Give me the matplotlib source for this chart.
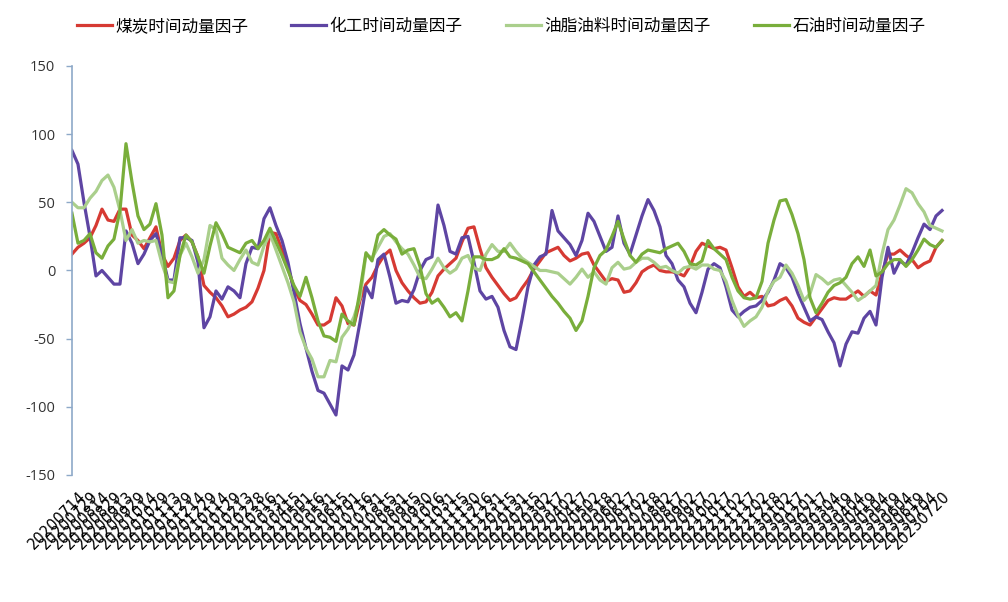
import matplotlib
matplotlib.use("Agg")
import matplotlib.pyplot as plt
import pandas as pd

plt.rcParams['font.family'] = ['Noto Sans CJK SC', 'DejaVu Sans']

series_names = ["煤炭时间动量因子", "化工时间动量因子", "油脂油料时间动量因子", "石油时间动量因子"]

dates = [d.strftime("%Y%m%d") for d in pd.date_range("2020-07-07", "2023-07-20", periods=146)]

coal = [12, 17, 20, 24, 33, 45, 37, 36, 45, 45, 26, 22, 16, 24, 32, 12, 3, 9, 22, 26,
        21, 10, -11, -16, -20, -26, -34, -32, -29, -27, -23, -13, 0, 28, 27, 15, 2, -13, -22, -25,
        -32, -40, -40, -37, -20, -26, -39, -40, -22, -10, -5, 4, 11, 15, 0, -9, -15, -20, -24, -23,
        -16, -4, 1, 5, 9, 21, 31, 32, 16, 2, -5, -11, -17, -22, -20, -13, -7, 1, 7, 13,
        15, 17, 11, 7, 9, 12, 13, 4, -2, -8, -6, -7, -16, -15, -9, -1, 2, 4, 0, -1,
        -1, -2, -4, 3, 14, 20, 18, 16, 17, 15, 2, -12, -19, -16, -20, -19, -26, -25, -22, -20,
        -26, -35, -38, -40, -34, -28, -22, -20, -21, -21, -18, -15, -19, -15, -18, -2, 12, 12, 15, 11,
        8, 2, 5, 7, 17, 22]

chem = [88, 78, 50, 25, -4, 0, -5, -10, -10, 29, 20, 5, 12, 22, 27, 12, -7, -7, 24, 24,
        22, 6, -42, -34, -15, -21, -12, -15, -20, 5, 17, 16, 38, 46, 33, 22, 6, -16, -39, -57,
        -74, -88, -90, -98, -106, -70, -73, -62, -38, -12, -20, 8, 12, -5, -24, -22, -23, -14, 0, 8,
        10, 48, 33, 14, 12, 24, 25, 6, -15, -21, -19, -27, -44, -56, -58, -36, -12, 4, 10, 12,
        44, 29, 24, 19, 11, 22, 42, 36, 25, 14, 17, 40, 20, 12, 26, 40, 52, 44, 32, 11,
        5, -7, -12, -24, -31, -16, 1, 5, 2, -12, -29, -34, -30, -27, -26, -22, -16, -7, 5, 2,
        -5, -17, -27, -37, -34, -36, -45, -53, -70, -54, -45, -46, -35, -30, -40, -5, 17, -2, 7, 4,
        13, 24, 34, 30, 40, 44]

oilseed = [50, 46, 46, 53, 58, 66, 70, 61, 44, 22, 30, 20, 22, 21, 22, 5, -8, -9, 11, 20,
           10, -2, 8, 33, 30, 9, 4, 0, 8, 15, 6, 4, 18, 27, 15, 3, -9, -23, -45, -57,
           -65, -78, -78, -66, -67, -49, -43, -34, -20, 12, 9, 17, 25, 27, 21, 16, 12, 4, -5, -6,
           1, 9, 2, -2, 1, 9, 11, 2, 0, 12, 19, 14, 14, 20, 14, 9, 6, 3, 0, 0,
           -1, -2, -6, -10, -5, 1, -5, -1, -7, -10, 2, 6, 1, 2, 6, 9, 9, 6, 2, 3,
           0, -2, 2, 3, 1, 4, 4, 1, 0, -8, -22, -33, -41, -37, -34, -27, -15, -8, -5, 4,
           -2, -11, -22, -17, -3, -6, -10, -7, -6, -11, -16, -22, -19, -15, -11, 12, 30, 37, 48, 60,
           57, 49, 43, 33, 31, 29]

oil = [42, 20, 22, 27, 13, 9, 18, 23, 44, 93, 65, 40, 30, 34, 49, 26, -20, -15, 11, 26,
       21, 10, -2, 18, 35, 27, 17, 15, 13, 20, 22, 16, 22, 31, 21, 11, 0, -11, -19, -5,
       -20, -37, -48, -49, -52, -32, -37, -40, -15, 13, 7, 26, 30, 26, 23, 12, 15, 16, 3, -17,
       -24, -21, -27, -34, -31, -37, -15, 10, 10, 8, 8, 10, 16, 10, 9, 7, 5, -1, -7, -13,
       -19, -24, -30, -35, -44, -37, -19, 2, 11, 15, 25, 36, 23, 11, 6, 12, 15, 14, 13, 16,
       18, 20, 14, 5, 4, 7, 22, 16, 12, 8, -5, -15, -20, -21, -20, -8, 20, 37, 51, 52,
       41, 27, 8, -20, -31, -24, -16, -11, -9, -5, 5, 10, 3, 15, -4, -1, 5, 8, 8, 3,
       8, 15, 23, 19, 17, 22]

colors = ["#D63A33", "#5E45A3", "#AACF8C", "#79AE3B"]
y_ticks = [-150, -100, -50, 0, 50, 100, 150]

fig = plt.figure(figsize=(10.08, 6.02), dpi=100)
ax = fig.add_axes([0.0714, 0.211, 0.8810, 0.6794])

x = list(range(len(dates)))
for vals, name, c in zip([coal, chem, oilseed, oil], series_names, colors):
    ax.plot(x, vals, color=c, lw=2.3, label=name, solid_joinstyle='round')

ax.set_ylim(-150, 150)
ax.set_xlim(0, 148)
ax.set_yticks(y_ticks)
ax.set_yticklabels([str(v) for v in y_ticks], fontsize=10.5, color='#333333',
                   family=['Open Sans', 'DejaVu Sans'])
ax.tick_params(axis='y', length=4, width=1, color='#8EA9C8', direction='out', pad=8)

tick_idx = list(range(len(dates) - 1, -1, -2))[::-1]
ax.set_xticks(tick_idx)
ax.set_xticklabels([dates[i] for i in tick_idx], rotation=45, ha='right',
                   rotation_mode='anchor', fontsize=10.5, color='#000000',
                   family=['DejaVu Sans'])
ax.tick_params(axis='x', length=0, pad=10)

for s in ['top', 'right', 'bottom']:
    ax.spines[s].set_visible(False)
ax.spines['left'].set_color('#8EA9C8')
ax.spines['left'].set_linewidth(1.2)

fig.legend(loc='upper center', bbox_to_anchor=(0.497, 0.995), ncol=4, frameon=False,
           handlelength=2.1, columnspacing=2.6, fontsize=12, handletextpad=0.2)

fig.savefig("out.png", dpi=100, facecolor='white')
